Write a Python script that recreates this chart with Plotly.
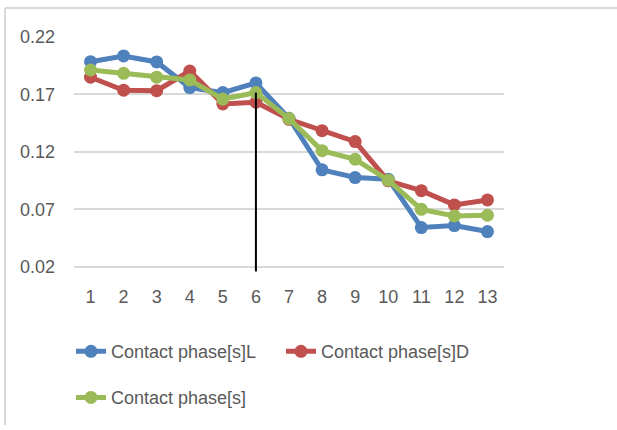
import plotly.graph_objects as go

categories = list(range(1, 14))
contact_L = [0.1985, 0.2035, 0.1983, 0.1760, 0.1716, 0.1800, 0.1493, 0.1044, 0.0977, 0.0963, 0.0542, 0.0559, 0.0507]
contact_D = [0.1850, 0.1737, 0.1733, 0.1904, 0.1617, 0.1632, 0.1484, 0.1385, 0.1290, 0.0948, 0.0863, 0.0739, 0.0782]
contact_all = [0.1913, 0.1884, 0.1850, 0.1826, 0.1660, 0.1716, 0.1490, 0.1211, 0.1136, 0.0954, 0.0700, 0.0643, 0.0649]
y_ticks = [0.02, 0.07, 0.12, 0.17, 0.22]
y_tick_labels = ["0.02", "0.07", "0.12", "0.17", "0.22"]
marker_x = 6
marker_y_bottom = 0.016
marker_y_top = 0.1716

FONT = "Liberation Sans, Arial, sans-serif"
TXT = "#595959"

fig = go.Figure()
series = [
    ("Contact phase[s]L", contact_L, "#4f81bd", "legend"),
    ("Contact phase[s]D", contact_D, "#c0504d", "legend"),
    ("Contact phase[s]", contact_all, "#9bbb59", "legend2"),
]
for name, vals, col, lg in series:
    fig.add_trace(go.Scatter(
        x=categories, y=vals, name=name, mode="lines+markers",
        line=dict(color=col, width=5),
        marker=dict(color=col, size=13),
        legend=lg,
    ))

fig.add_shape(type="line", xref="x", yref="y",
              x0=marker_x, x1=marker_x, y0=marker_y_bottom, y1=marker_y_top,
              line=dict(color="black", width=2))

# chart border (top and left edges)
fig.add_shape(type="line", xref="paper", yref="paper",
              x0=-0.1605, x1=1.3, y0=1.1234, y1=1.1234,
              line=dict(color="#d9d9d9", width=2))
fig.add_shape(type="line", xref="paper", yref="paper",
              x0=-0.1605, x1=-0.1605, y0=-0.651, y1=1.1234,
              line=dict(color="#d9d9d9", width=2))

fig.update_layout(
    width=617, height=430,
    margin=dict(l=74, r=113, t=37, b=158),
    paper_bgcolor="white", plot_bgcolor="white",
    font=dict(family=FONT, size=18, color=TXT),
    showlegend=True,
    legend=dict(orientation="h", x=-0.007, xanchor="left", y=-0.339, yanchor="middle",
                entrywidth=165, entrywidthmode="pixels",
                font=dict(family=FONT, size=18, color=TXT),
                bgcolor="rgba(0,0,0,0)", tracegroupgap=0, itemwidth=30),
    legend2=dict(orientation="h", x=-0.007, xanchor="left", y=-0.535, yanchor="middle",
                 font=dict(family=FONT, size=18, color=TXT),
                 bgcolor="rgba(0,0,0,0)", itemwidth=30),
)
fig.update_xaxes(range=[0.5, 13.5], tickmode="array", tickvals=categories,
                 ticktext=[str(c) for c in categories], showgrid=False,
                 zeroline=False, showline=False, ticks="", ticklabelstandoff=12,
                 tickfont=dict(family=FONT, size=18, color=TXT))
fig.update_yaxes(range=[0.0155, 0.22], tickmode="array", tickvals=y_ticks,
                 ticktext=y_tick_labels, showgrid=True, gridcolor="#d9d9d9",
                 gridwidth=1.5, zeroline=False, showline=False, ticks="",
                 ticklabelstandoff=18,
                 tickfont=dict(family=FONT, size=18, color=TXT))

fig.write_html("out.html", config={"displayModeBar": False},
               post_script="document.body.style.margin='0';document.body.style.overflow='hidden';")
